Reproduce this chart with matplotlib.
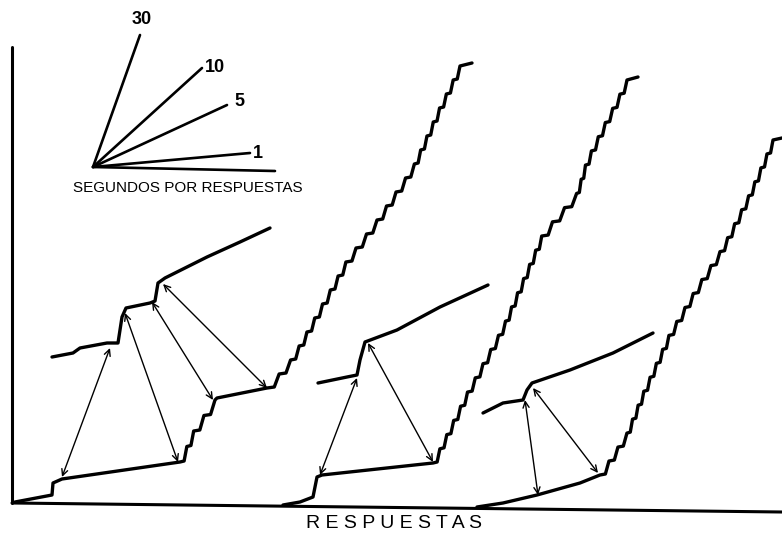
import matplotlib
matplotlib.use("Agg")
import matplotlib.pyplot as plt
import numpy as np

# ---------------- data (pixel-like units) ----------------
# frame of the record
frame_y_x = [12, 12]
frame_y_y = [47, 503]
frame_x_x = [12, 782]
frame_x_y = [503, 512]

# legend fan "segundos por respuestas"
fan_origin_x = 93
fan_origin_y = 167
fan_labels = ["30", "10", "5", "1", ""]
fan_end_x = [140, 202, 227, 250, 275]
fan_end_y = [35, 68, 105, 153, 171]
fan_label_x = [142, 215, 239, 258, 0]
fan_label_y = [20, 67, 101, 154, 0]
fan_title = "SEGUNDOS POR RESPUESTAS"
x_title = "RESPUESTAS"

# cumulative records: vertices and flag (1 = segment drawn as pen steps)
A1_x = [15, 52, 53, 62, 180, 195, 215, 217, 267, 280, 293, 347, 377, 413, 440, 460, 472]
A1_y = [502, 495, 483, 479, 462, 428, 400, 398, 388, 373, 357, 260, 220, 167, 107, 66, 63]
A1_s = [0, 0, 0, 0, 1, 1, 0, 0, 1, 1, 1, 1, 1, 1, 1, 0]

B1_x = [52, 73, 80, 107, 118, 122, 126, 150, 155, 158, 165, 207, 240, 270]
B1_y = [357, 353, 348, 343, 343, 317, 308, 303, 301, 283, 278, 257, 242, 228]

A2_x = [283, 300, 313, 317, 322, 433, 467, 503, 543, 560, 577, 587, 603, 617, 627, 638]
A2_y = [505, 502, 497, 477, 475, 463, 393, 327, 233, 213, 193, 160, 127, 100, 80, 77]
A2_s = [0, 0, 0, 0, 0, 1, 1, 1, 1, 1, 1, 1, 1, 1, 0]

B2_x = [318, 347, 357, 360, 365, 397, 440, 488]
B2_y = [383, 377, 375, 360, 342, 330, 307, 285]

A3_x = [477, 503, 537, 580, 600, 627, 643, 670, 697, 723, 750, 773, 782]
A3_y = [507, 503, 495, 483, 475, 433, 393, 333, 287, 247, 193, 140, 138]
A3_s = [0, 0, 0, 0, 1, 1, 1, 1, 1, 1, 1, 0]

B3_x = [483, 503, 523, 527, 532, 570, 613, 653]
B3_y = [413, 403, 400, 390, 383, 370, 353, 333]

# double-headed arrows linking the two records
arrow_x0 = [62, 125, 152, 163, 320, 368, 525, 533]
arrow_y0 = [477, 313, 302, 284, 475, 343, 400, 388]
arrow_x1 = [110, 178, 213, 267, 357, 433, 538, 598]
arrow_y1 = [348, 462, 400, 388, 378, 462, 495, 473]

STEP_H = 14.0   # pen step height (style)

# ---------------- drawing ----------------
plt.rcParams['font.family'] = ['Liberation Sans', 'DejaVu Sans']
fig = plt.figure(figsize=(7.82, 5.35), dpi=100)
ax = fig.add_axes([0, 0, 1, 1])
ax.set_xlim(0, 782)
ax.set_ylim(535, 0)
ax.axis('off')

lw_rec = 2.4
kw = dict(color='black', solid_capstyle='round', solid_joinstyle='round')


def stair_path(xs, ys):
    """Render a steep run of a cumulative record as pen steps."""
    xs = np.asarray(xs, float)
    ys = np.asarray(ys, float)
    total = ys[0] - ys[-1]
    n = max(1, int(round(total / STEP_H)))
    levels = ys[0] - np.arange(n + 1) * total / n
    xl = np.interp(-levels, -ys, xs)
    px, py = [xl[0]], [levels[0]]
    for k in range(n):
        dx = xl[k + 1] - xl[k]
        px.append(xl[k] + 0.6 * dx)
        py.append(levels[k] - 1.0)
        px.append(xl[k + 1])
        py.append(levels[k + 1])
    return px, py


def draw_record(xs, ys, flags=None):
    if flags is None:
        flags = [0] * (len(xs) - 1)
    px, py = [xs[0]], [ys[0]]
    i = 0
    while i < len(flags):
        if flags[i]:
            j = i
            while j < len(flags) and flags[j]:
                j += 1
            sx, sy = stair_path(xs[i:j + 1], ys[i:j + 1])
            px += sx[1:]
            py += sy[1:]
            i = j
        else:
            px.append(xs[i + 1])
            py.append(ys[i + 1])
            i += 1
    ax.plot(px, py, lw=lw_rec, **kw)


# frame
ax.plot(frame_y_x, frame_y_y, lw=2.2, **kw)
ax.plot(frame_x_x, frame_x_y, lw=2.2, **kw)

# legend fan
for ex, ey, lab, lx, ly in zip(fan_end_x, fan_end_y, fan_labels, fan_label_x, fan_label_y):
    ax.plot([fan_origin_x, ex], [fan_origin_y, ey], lw=1.9, **kw)
    if lab:
        ax.text(lx, ly, lab, ha='center', va='center', fontsize=13,
                fontweight='bold')
ax.text(188, 188, fan_title, ha='center', va='center', fontsize=11)

# records
draw_record(A1_x, A1_y, A1_s)
draw_record(B1_x, B1_y)
draw_record(A2_x, A2_y, A2_s)
draw_record(B2_x, B2_y)
draw_record(A3_x, A3_y, A3_s)
draw_record(B3_x, B3_y)

# arrows
for x0, y0, x1, y1 in zip(arrow_x0, arrow_y0, arrow_x1, arrow_y1):
    ax.annotate('', xy=(x1, y1), xytext=(x0, y0), xycoords='data',
                arrowprops=dict(arrowstyle='<->,head_length=0.45,head_width=0.22',
                                lw=1.0, color='black', shrinkA=0, shrinkB=0))

ax.text(394, 523, ' '.join(x_title), ha='center', va='center', fontsize=14)

fig.savefig('out.png', dpi=100)
